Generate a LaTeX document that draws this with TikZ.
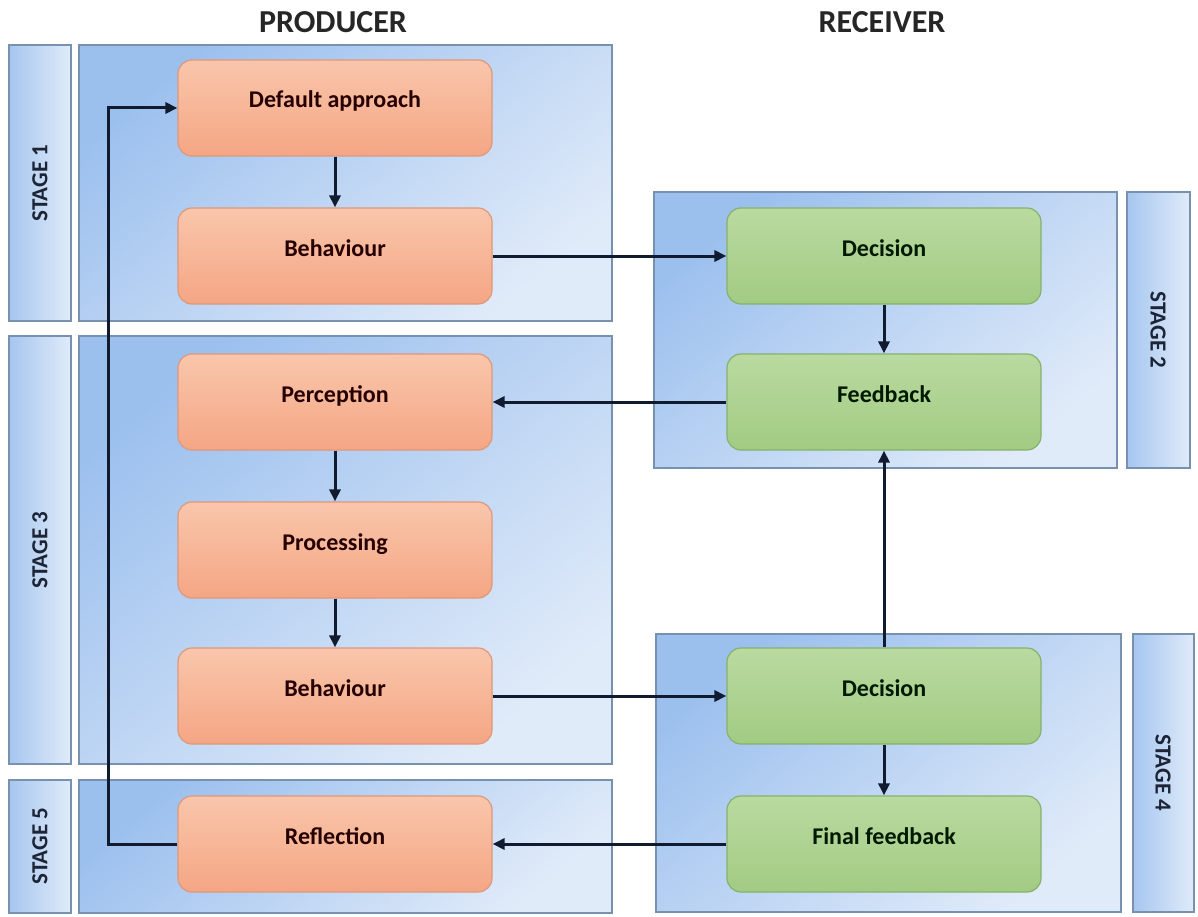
\documentclass[tikz,border=0pt]{standalone}
\usepackage{fontspec}
\setmainfont{Carlito}
\usetikzlibrary{arrows.meta}

\definecolor{bgdark}{HTML}{9CC0EE}
\definecolor{bglight}{HTML}{E0EBF9}
\definecolor{bgedge}{HTML}{7891AE}
\definecolor{orTop}{HTML}{F9C6AB}
\definecolor{orBot}{HTML}{F4A684}
\definecolor{orEdge}{HTML}{E0977A}
\definecolor{grTop}{HTML}{BADAA0}
\definecolor{grBot}{HTML}{A2CB83}
\definecolor{grEdge}{HTML}{86B26C}
\definecolor{arrowcol}{HTML}{111B30}
\definecolor{labcol}{HTML}{1C2436}

\tikzset{
  panel/.style={draw=bgedge, line width=1.6pt, top color=bgdark, bottom color=bglight, shading angle=40},
  stagebox/.style={draw=bgedge, line width=1.6pt, left color=bgdark!90, right color=bglight},
  stagetext/.style={font=\fontsize{23}{25}\selectfont\bfseries, text=labcol},
  procbox/.style={rectangle, rounded corners=14pt, minimum width=314pt, minimum height=96pt,
    line width=1.2pt, font=\fontsize{24}{27}\selectfont\bfseries, text height=15pt, text depth=15pt},
  pnode/.style={procbox, draw=orEdge, top color=orTop, bottom color=orBot, text=black!85!red},
  gnode/.style={procbox, draw=grEdge, top color=grTop, bottom color=grBot, text=black!90!green},
  conn/.style={draw=arrowcol, line width=3pt, -{Triangle[length=12pt,width=11pt]}},
  heading/.style={font=\fontsize{32}{35}\selectfont\bfseries, text=black!85}
}

\begin{document}
\begin{tikzpicture}[x=1pt,y=-1pt]
  \useasboundingbox[fill=white] (0,0) rectangle (1198,917);

  % column headings
  \node[heading] (hprod) at (333,22) {PRODUCER};
  \node[heading] (hrec) at (882,22) {RECEIVER};

  % producer side stage bands
  \shade[stagebox] (9,45) rectangle (71,321);
  \shade[panel] (79,45) rectangle (612,321);
  \shade[stagebox] (9,336) rectangle (71,764);
  \shade[panel] (79,336) rectangle (612,764);
  \shade[stagebox] (9,780) rectangle (71,913);
  \shade[panel] (79,780) rectangle (612,913);
  \draw[bgedge, line width=1.6pt] (9,45) rectangle (71,321) (79,45) rectangle (612,321)
    (9,336) rectangle (71,764) (79,336) rectangle (612,764)
    (9,780) rectangle (71,913) (79,780) rectangle (612,913);

  % receiver side stage bands
  \shade[panel] (654,192) rectangle (1117,468);
  \shade[stagebox] (1127,192) rectangle (1190,468);
  \shade[panel] (656,634) rectangle (1121,912);
  \shade[stagebox] (1133,634) rectangle (1194,912);
  \draw[bgedge, line width=1.6pt] (654,192) rectangle (1117,468) (1127,192) rectangle (1190,468)
    (656,634) rectangle (1121,912) (1133,634) rectangle (1194,912);

  % stage labels
  \node[stagetext, rotate=90] (s1) at (40,183) {STAGE 1};
  \node[stagetext, rotate=90] (s3) at (40,550) {STAGE 3};
  \node[stagetext, rotate=90] (s5) at (40,846) {STAGE 5};
  \node[stagetext, rotate=-90] (s2) at (1158,330) {STAGE 2};
  \node[stagetext, rotate=-90] (s4) at (1163,773) {STAGE 4};

  % producer steps
  \node[pnode] (da)  at (335,108) {Default approach};
  \node[pnode] (bh1) at (335,256) {Behaviour};
  \node[pnode] (pc)  at (335,402) {Perception};
  \node[pnode] (pr)  at (335,550) {Processing};
  \node[pnode] (bh2) at (335,696) {Behaviour};
  \node[pnode] (rf)  at (335,844) {Reflection};

  % receiver steps
  \node[gnode] (dc1) at (884,256) {Decision};
  \node[gnode] (fb)  at (884,402) {Feedback};
  \node[gnode] (dc2) at (884,696) {Decision};
  \node[gnode] (ff)  at (884,844) {Final feedback};

  % connectors
  \draw[conn] (da) -- (bh1);
  \draw[conn] (bh1) -- (dc1);
  \draw[conn] (dc1) -- (fb);
  \draw[conn] (fb) -- (pc);
  \draw[conn] (pc) -- (pr);
  \draw[conn] (pr) -- (bh2);
  \draw[conn] (bh2) -- (dc2);
  \draw[conn] (dc2) -- (fb);
  \draw[conn] (dc2) -- (ff);
  \draw[conn] (ff) -- (rf);
  \draw[conn] (rf.west) -- ++(-69,0) |- (da.west);
\end{tikzpicture}
\end{document}
